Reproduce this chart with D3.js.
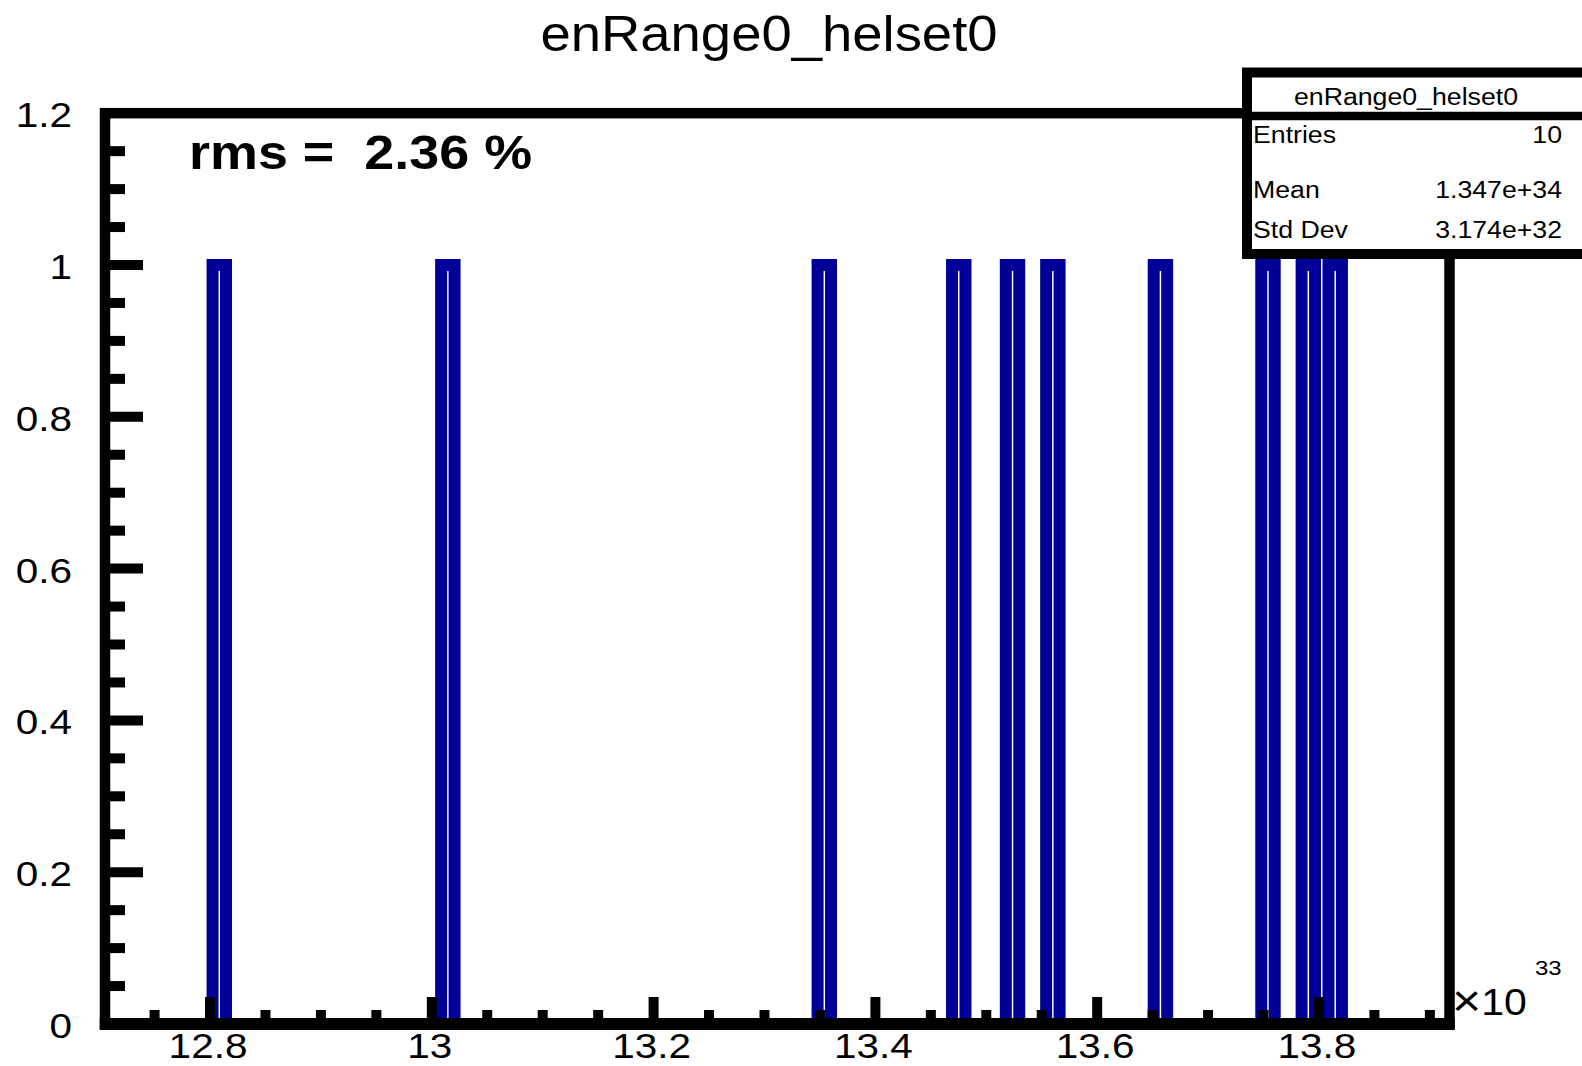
<!DOCTYPE html>
<html>
<head>
<meta charset="utf-8">
<script src="https://cdn.jsdelivr.net/npm/d3@7"></script>
<style>
  html, body { margin: 0; padding: 0; background: #ffffff; }
  svg { display: block; }
  text { font-family: "Liberation Sans", Arial, Helvetica, sans-serif; fill: #000; }
</style>
</head>
<body>
<svg id="chart" width="1582" height="1066"></svg>
<script>
// ---------------- data ----------------
const chartTitle = "enRange0_helset0";
const rmsText = "rms =  2.36 %";
// histogram entries (units of 10^33), one entry per filled bin
const entries = [12.808, 13.014, 13.355, 13.475, 13.524, 13.561, 13.658, 13.755, 13.789, 13.814];
const nBins = 100;
const xRange = [12.7053, 13.9177];
const yRange = [0, 1.2];
const xTickValues = [12.8, 13.0, 13.2, 13.4, 13.6, 13.8];
const xTickLabels = ["12.8", "13", "13.2", "13.4", "13.6", "13.8"];
const yTickValues = [0, 0.2, 0.4, 0.6, 0.8, 1.0, 1.2];
const yTickLabels = ["0", "0.2", "0.4", "0.6", "0.8", "1", "1.2"];
const xMinorStep = 0.05;
const yMinorStep = 0.05;
const statsLabels = ["Entries", "Mean", "Std Dev"];
const statsValues = ["10", "1.347e+34", "3.174e+32"];

// ---------------- layout ----------------
const frame = { left: 105, right: 1449.5, top: 113.2, bottom: 1024 };
const svg = d3.select("#chart");

const x = d3.scaleLinear().domain(xRange).range([frame.left, frame.right]);
const y = d3.scaleLinear().domain(yRange).range([frame.bottom, frame.top]);

function stretch(sel, k) {
  sel.each(function () {
    const len = this.getComputedTextLength();
    d3.select(this).attr("textLength", len * k).attr("lengthAdjust", "spacingAndGlyphs");
  });
  return sel;
}

// ---------------- histogram ----------------
const bw = (xRange[1] - xRange[0]) / nBins;
const counts = new Array(nBins).fill(0);
entries.forEach(v => {
  const i = Math.floor((v - xRange[0]) / bw);
  if (i >= 0 && i < nBins) counts[i] += 1;
});
const pts = [[xRange[0], 0]];
counts.forEach((c, i) => {
  pts.push([xRange[0] + i * bw, c]);
  pts.push([xRange[0] + (i + 1) * bw, c]);
});
pts.push([xRange[1], 0]);

const line = d3.line().x(d => x(d[0])).y(d => y(d[1]));
svg.append("path")
  .attr("d", line(pts))
  .attr("fill", "none")
  .attr("stroke", "#000099")
  .attr("stroke-width", 12)
  .attr("stroke-linejoin", "miter");

// ---------------- frame & ticks ----------------
const axisW = 10.5;
svg.append("rect")
  .attr("x", frame.left).attr("y", frame.top)
  .attr("width", frame.right - frame.left).attr("height", frame.bottom - frame.top)
  .attr("fill", "none").attr("stroke", "#000").attr("stroke-width", axisW);
// thicker bottom axis line
svg.append("line")
  .attr("x1", frame.left - axisW / 2).attr("x2", frame.right + axisW / 2)
  .attr("y1", frame.bottom).attr("y2", frame.bottom)
  .attr("stroke", "#000").attr("stroke-width", 12);

const xMinor = d3.range(Math.ceil(xRange[0] / xMinorStep), Math.floor(xRange[1] / xMinorStep) + 1)
  .map(k => +(k * xMinorStep).toFixed(4));
const yMinor = d3.range(1, Math.round(yRange[1] / yMinorStep)).map(k => +(k * yMinorStep).toFixed(4));
const isMajor = (v, majors) => majors.some(m => Math.abs(m - v) < 1e-6);

const ticks = svg.append("g").attr("stroke", "#000").attr("stroke-width", 10);
// x ticks
ticks.selectAll("line.xt").data(xMinor).join("line")
  .attr("x1", d => x(d)).attr("x2", d => x(d))
  .attr("y1", frame.bottom)
  .attr("y2", d => isMajor(d, xTickValues) ? 997 : 1010);
// y ticks
ticks.selectAll("line.yt").data(yMinor).join("line")
  .attr("y1", d => y(d)).attr("y2", d => y(d))
  .attr("x1", frame.left)
  .attr("x2", d => isMajor(d, yTickValues) ? 143 : 125);

// tick labels
const xl = svg.append("g").selectAll("text").data(xTickValues).join("text")
  .attr("x", d => x(d) - 2).attr("y", 1057.5)
  .attr("text-anchor", "middle")
  .attr("font-size", 35.5)
  .text((d, i) => xTickLabels[i]);
stretch(xl, 1.14);

const yl = svg.append("g").selectAll("text").data(yTickValues).join("text")
  .attr("x", 72).attr("y", d => y(d) + 14)
  .attr("text-anchor", "end")
  .attr("font-size", 35.5)
  .text((d, i) => yTickLabels[i]);
stretch(yl, 1.14);

// x10^33 exponent
const expo = svg.append("text").attr("x", 1452).attr("y", 1015).attr("font-size", 36);
expo.append("tspan").attr("font-size", 44).attr("font-weight", "300").attr("dy", 1).text("\u00d7");
expo.append("tspan").attr("dy", -1).text("10");
stretch(expo, 1.14);
stretch(svg.append("text").attr("x", 1535).attr("y", 975).attr("font-size", 21)
  .text("33"), 1.14);

// ---------------- title & rms ----------------
stretch(svg.append("text").attr("x", 769).attr("y", 51)
  .attr("text-anchor", "middle").attr("font-size", 49.5)
  .text(chartTitle), 1.1);

stretch(svg.append("text").attr("x", 189).attr("y", 169)
  .attr("font-size", 49).attr("font-weight", "bold")
  .attr("xml:space", "preserve").style("white-space", "pre")
  .text(rmsText), 1.1);

// ---------------- stats box ----------------
const sb = { left: 1247, top: 72.5, bottom: 254, right: 1600, sep: 116 };
const stats = svg.append("g");
stats.append("rect")
  .attr("x", sb.left).attr("y", sb.top)
  .attr("width", sb.right - sb.left).attr("height", sb.bottom - sb.top)
  .attr("fill", "#fff").attr("stroke", "#000").attr("stroke-width", 10);
stats.append("line")
  .attr("x1", sb.left).attr("x2", sb.right)
  .attr("y1", sb.sep).attr("y2", sb.sep)
  .attr("stroke", "#000").attr("stroke-width", 8.5);
stretch(stats.append("text").attr("x", 1406).attr("y", 105)
  .attr("text-anchor", "middle").attr("font-size", 23)
  .text(chartTitle), 1.16);
const rowY = [143, 198, 237.5];
stretch(stats.selectAll("text.lab").data(statsLabels).join("text")
  .attr("x", 1253).attr("y", (d, i) => rowY[i])
  .attr("font-size", 23).text(d => d), 1.16);
stretch(stats.selectAll("text.val").data(statsValues).join("text")
  .attr("x", 1562).attr("y", (d, i) => rowY[i])
  .attr("text-anchor", "end")
  .attr("font-size", 23).text(d => d), 1.16);
</script>
</body>
</html>
